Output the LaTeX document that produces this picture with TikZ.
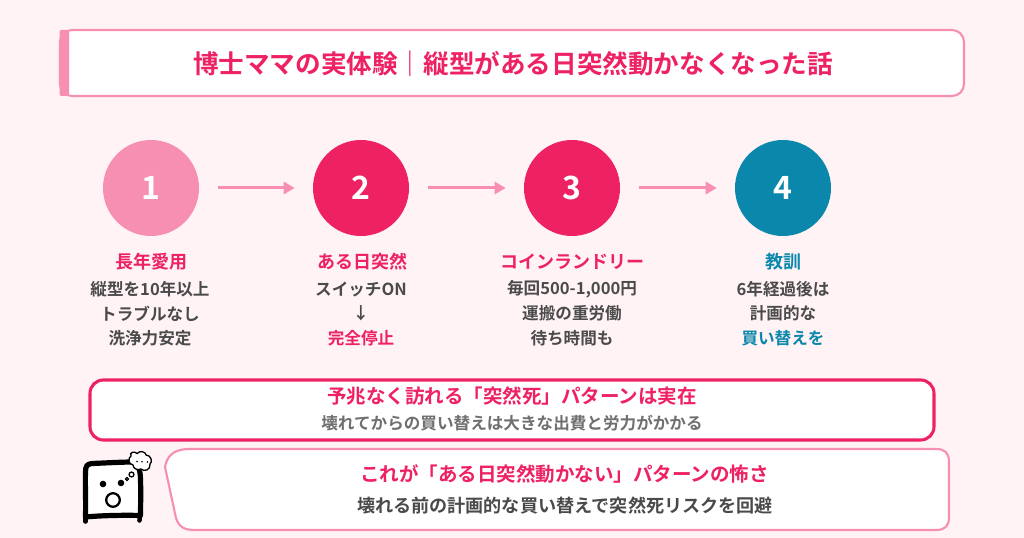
\documentclass[tikz,border=0pt]{standalone}
\usepackage{fontspec}
\setmainfont{Noto Sans CJK JP}[BoldFont={* Bold}]
\usetikzlibrary{arrows.meta}
\definecolor{bgc}{HTML}{FFF3F5}
\definecolor{pinkc}{HTML}{F78FB3}
\definecolor{crim}{HTML}{EE2163}
\definecolor{tealc}{HTML}{0A87AB}
\definecolor{grayc}{HTML}{4A4A4A}
\definecolor{grayd}{HTML}{6F6F6F}
\newcommand{\px}[1]{\fontsize{\dimexpr #1pt*3/4\relax}{\dimexpr #1pt*9/10\relax}\selectfont\bfseries}
\tikzset{
  x=0.75pt,y=-0.75pt,
  disc/.style={circle,minimum size=72pt,inner sep=0,text=white,font=\px{32}},
  flow/.style={pinkc,line width=2.25pt,-{Triangle[length=8.25pt,width=9pt]},shorten <=14.25pt,shorten >=13.5pt},
  lab/.style={inner sep=0,anchor=center,text=crim,font=\px{18}},
  body/.style={inner sep=0,anchor=center,text=grayc,font=\px{16.6}},
}
\begin{document}
\begin{tikzpicture}
\useasboundingbox (0,0) rectangle (1024,538);
\fill[bgc] (0,0) rectangle (1024,538);
% title
\draw[pinkc,line width=1.6pt,fill=white,rounded corners=9pt] (60,30) rectangle (964,96);
\fill[pinkc,rounded corners=1.5pt] (59.5,30) rectangle (69,96);
\node[inner sep=0,text=crim,font=\px{25.6}] (title) at (513,64) {博士ママの実体験｜縦型がある日突然動かなくなった話};
% discs
\node[disc,fill=pinkc] (n1) at (151,188) {1};
\node[disc,fill=crim] (n2) at (361,188) {2};
\node[disc,fill=crim] (n3) at (572,188) {3};
\node[disc,fill=tealc] (n4) at (783,188) {4};
\draw[flow] (n1) -- (n2);
\draw[flow] (n2) -- (n3);
\draw[flow] (n3) -- (n4);
% column 1
\node[lab] (l1) at (151,262) {長年愛用};
\node[body] (b1a) at (150,289.5) {縦型を10年以上};
\node[body] (b1b) at (150,313.5) {トラブルなし};
\node[body] (b1c) at (150,338) {洗浄力安定};
% column 2
\node[lab] (l2) at (362,262) {ある日突然};
\node[body] (b2a) at (361,289.5) {スイッチON};
\node[body] (b2b) at (361,313.5) {↓};
\node[body,text=crim] (b2c) at (361,338) {完全停止};
% column 3
\node[lab] (l3) at (572,262) {コインランドリー};
\node[body] (b3a) at (572,289.5) {毎回500-1,000円};
\node[body] (b3b) at (572,313.5) {運搬の重労働};
\node[body] (b3c) at (572,338) {待ち時間も};
% column 4
\node[lab,text=tealc] (l4) at (783,262) {教訓};
\node[body] (b4a) at (783,289.5) {6年経過後は};
\node[body] (b4b) at (783,313.5) {計画的な};
\node[body,text=tealc] (b4c) at (783,338) {買い替えを};
% warning card
\draw[crim,line width=2.3pt,fill=white,rounded corners=10pt] (90,380) rectangle (934,440);
\node[inner sep=0,text=crim,font=\px{19.5}] (w1) at (512,396) {予兆なく訪れる「突然死」パターンは実在};
\node[inner sep=0,text=grayd,font=\px{16.6}] (w2) at (512,423) {壊れてからの買い替えは大きな出費と労力がかかる};
% speech card
\draw[pinkc,line width=1.6pt,fill=white,line join=round]
  (165,467) .. controls (167,457) and (172,449) .. (190,449)
  -- (936,449) .. controls (945,449) and (949,453) .. (949,462)
  -- (949,517) .. controls (949,526) and (945,530) .. (936,530)
  -- (195,530) .. controls (184,530) and (179,527) .. (176,518) -- cycle;
\node[inner sep=0,text=crim,font=\px{19.5}] (s1) at (564.5,474) {これが「ある日突然動かない」パターンの怖さ};
\node[inner sep=0,text=grayc,font=\px{18.1}] (s2) at (565,506) {壊れる前の計画的な買い替えで突然死リスクを回避};
% character
\draw[black,line width=3.9pt,line join=round,line cap=round,fill=white]
  (85.5,515.5) .. controls (86,500) and (85,485) .. (85.5,472)
  .. controls (85.5,466) and (87,464) .. (92,463.5)
  .. controls (105,463) and (122,462) .. (133,462)
  .. controls (138,463) and (140.5,470) .. (140.5,480)
  .. controls (141,495) and (140.5,505) .. (140.5,515.5)
  .. controls (125,515) and (100,515.5) .. (85.5,517) -- cycle;
\draw[black,line width=3.4pt,line cap=round] (85.5,516) -- (85.5,521.5);
\draw[black,line width=3.4pt,line cap=round] (140,515) -- (139.5,520.5);
\fill[black] (103,484) circle[radius=3.3];
\fill[black] (121,483) circle[radius=3.3];
\draw[black,line width=1.7pt,fill=white] (113,500) circle[radius=6.8];
\draw[black,line width=0.8pt,fill=gray] (127,479) circle[radius=1.7];
\draw[black,line width=1pt,fill=white] (131.5,474.5) circle[radius=2.4];
\draw[black,line width=1pt,fill=white]
  (131,456) .. controls (129,452) and (135,451) .. (137,453.5)
  .. controls (140,450) and (146,452) .. (146,455)
  .. controls (151,455) and (153,462) .. (150,464)
  .. controls (151,470) and (144,472) .. (141,469)
  .. controls (137,471) and (133,468) .. (133,465)
  .. controls (128,464) and (128,458) .. (131,456) -- cycle;
\fill[black] (137,461.5) circle[radius=.9] (142,461.8) circle[radius=.9] (147.5,462) circle[radius=.9];
\end{tikzpicture}
\end{document}
